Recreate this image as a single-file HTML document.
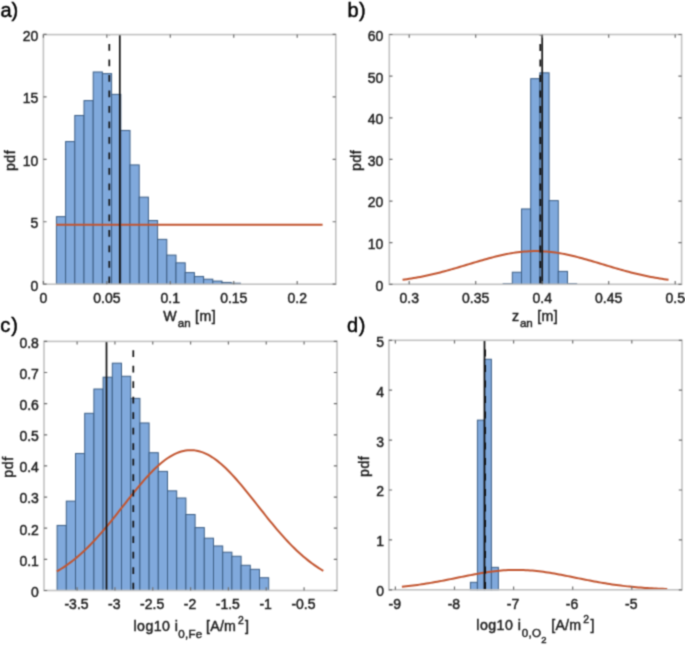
<!DOCTYPE html>
<html><head><meta charset="utf-8"><style>
html,body{margin:0;padding:0;background:#fff;}
body{width:685px;height:645px;overflow:hidden;}
svg{display:block;}
</style></head><body>
<svg width="685" height="645" viewBox="0 0 685 645">
<defs><filter id="bl" x="0" y="0" width="100%" height="100%" color-interpolation-filters="sRGB"><feConvolveMatrix order="3" kernelMatrix="0.04 0.12 0.04 0.12 0.36 0.12 0.04 0.12 0.04" divisor="1" edgeMode="duplicate"/></filter></defs>
<g filter="url(#bl)">
<rect width="685" height="645" fill="#fff"/>
<g fill="#80a9dc" stroke="#3d5f86" stroke-width="1">
<rect x="56.4" y="216.63" width="9.2" height="67.57"/>
<rect x="65.6" y="141.56" width="9.2" height="142.64"/>
<rect x="74.8" y="115.46" width="9.2" height="168.74"/>
<rect x="84" y="100.6" width="9.2" height="183.6"/>
<rect x="93.2" y="71.99" width="9.2" height="212.21"/>
<rect x="102.4" y="73.62" width="9.2" height="210.58"/>
<rect x="111.6" y="94.35" width="9.2" height="189.85"/>
<rect x="120.8" y="130.45" width="9.2" height="153.75"/>
<rect x="130" y="164.92" width="9.2" height="119.28"/>
<rect x="139.2" y="197.14" width="9.2" height="87.06"/>
<rect x="148.4" y="220.5" width="9.2" height="63.7"/>
<rect x="157.6" y="239.36" width="9.2" height="44.84"/>
<rect x="166.8" y="255.1" width="9.2" height="29.1"/>
<rect x="176" y="262.84" width="9.2" height="21.36"/>
<rect x="185.2" y="272.58" width="9.2" height="11.62"/>
<rect x="194.4" y="276.46" width="9.2" height="7.74"/>
<rect x="203.6" y="279.2" width="9.2" height="5"/>
<rect x="212.8" y="281.08" width="9.2" height="3.12"/>
<rect x="222" y="282.45" width="9.2" height="1.75"/>
<rect x="231.2" y="283.2" width="9.2" height="1"/>
<rect x="503.1" y="283.68" width="9.2" height="0.62"/>
<rect x="512.3" y="272.23" width="9.2" height="12.07"/>
<rect x="521.5" y="208.95" width="9.2" height="75.35"/>
<rect x="530.7" y="78.65" width="9.2" height="205.65"/>
<rect x="539.9" y="72.82" width="9.2" height="211.48"/>
<rect x="549.1" y="200.62" width="9.2" height="83.68"/>
<rect x="558.3" y="271.39" width="9.2" height="12.91"/>
<rect x="567.5" y="283.68" width="9.2" height="0.62"/>
<rect x="57.1" y="525.42" width="9.2" height="65.08"/>
<rect x="66.3" y="501.13" width="9.2" height="89.37"/>
<rect x="75.5" y="453.48" width="9.2" height="137.02"/>
<rect x="84.7" y="413.31" width="9.2" height="177.19"/>
<rect x="93.9" y="389.02" width="9.2" height="201.48"/>
<rect x="103.1" y="377.19" width="9.2" height="213.31"/>
<rect x="112.3" y="363.18" width="9.2" height="227.32"/>
<rect x="121.5" y="376.26" width="9.2" height="214.24"/>
<rect x="130.7" y="398.37" width="9.2" height="192.13"/>
<rect x="139.9" y="422.97" width="9.2" height="167.53"/>
<rect x="149.1" y="452.71" width="9.2" height="137.79"/>
<rect x="158.3" y="471.39" width="9.2" height="119.11"/>
<rect x="167.5" y="490.85" width="9.2" height="99.65"/>
<rect x="176.7" y="498.01" width="9.2" height="92.49"/>
<rect x="185.9" y="514.52" width="9.2" height="75.98"/>
<rect x="195.1" y="527.6" width="9.2" height="62.9"/>
<rect x="204.3" y="538.18" width="9.2" height="52.32"/>
<rect x="213.5" y="545.97" width="9.2" height="44.53"/>
<rect x="222.7" y="552.2" width="9.2" height="38.3"/>
<rect x="231.9" y="556.25" width="9.2" height="34.25"/>
<rect x="241.1" y="565.28" width="9.2" height="25.22"/>
<rect x="250.3" y="569.32" width="9.2" height="21.18"/>
<rect x="259.5" y="577.73" width="9.2" height="12.77"/>
<rect x="470.4" y="582.31" width="7" height="7.49"/>
<rect x="477.4" y="420.14" width="7" height="169.66"/>
<rect x="484.4" y="359.26" width="7" height="230.54"/>
<rect x="491.4" y="567.34" width="7" height="22.46"/>
</g>
<path d="M56.09 224.72H322.58" stroke="#c25530" stroke-width="2"/>
<polyline points="402.55,279.8 404.77,279.5 406.98,279.17 409.2,278.84 411.42,278.48 413.63,278.11 415.85,277.73 418.07,277.32 420.28,276.9 422.5,276.47 424.72,276.02 426.93,275.55 429.15,275.06 431.37,274.56 433.58,274.05 435.8,273.52 438.02,272.97 440.23,272.41 442.45,271.83 444.67,271.25 446.88,270.64 449.1,270.03 451.32,269.41 453.53,268.77 455.75,268.13 457.97,267.48 460.18,266.82 462.4,266.16 464.62,265.49 466.83,264.82 469.05,264.15 471.27,263.48 473.48,262.81 475.7,262.15 477.92,261.48 480.13,260.83 482.35,260.18 484.57,259.54 486.78,258.92 489,258.3 491.22,257.7 493.43,257.12 495.65,256.56 497.87,256.01 500.08,255.49 502.3,254.99 504.52,254.51 506.73,254.06 508.95,253.64 511.17,253.24 513.38,252.88 515.6,252.55 517.82,252.24 520.03,251.98 522.25,251.74 524.47,251.54 526.68,251.38 528.9,251.25 531.12,251.16 533.33,251.1 535.55,251.08 537.77,251.1 539.98,251.16 542.2,251.25 544.42,251.38 546.63,251.54 548.85,251.74 551.07,251.98 553.28,252.24 555.5,252.55 557.72,252.88 559.93,253.24 562.15,253.64 564.37,254.06 566.58,254.51 568.8,254.99 571.02,255.49 573.23,256.01 575.45,256.56 577.67,257.12 579.88,257.7 582.1,258.3 584.32,258.92 586.53,259.54 588.75,260.18 590.97,260.83 593.18,261.48 595.4,262.15 597.62,262.81 599.83,263.48 602.05,264.15 604.27,264.82 606.48,265.49 608.7,266.16 610.92,266.82 613.13,267.48 615.35,268.13 617.57,268.77 619.78,269.41 622,270.03 624.22,270.64 626.43,271.25 628.65,271.83 630.87,272.41 633.08,272.97 635.3,273.52 637.52,274.05 639.73,274.56 641.95,275.06 644.17,275.55 646.38,276.02 648.6,276.47 650.82,276.9 653.03,277.32 655.25,277.73 657.47,278.11 659.68,278.48 661.9,278.84 664.12,279.17 666.33,279.5 668.55,279.8" fill="none" stroke="#c25530" stroke-width="2" stroke-linejoin="round"/>
<polyline points="56.82,571.42 59.04,570.12 61.26,568.76 63.48,567.34 65.71,565.84 67.93,564.28 70.15,562.66 72.37,560.96 74.59,559.2 76.81,557.37 79.03,555.46 81.25,553.49 83.47,551.46 85.69,549.35 87.91,547.18 90.13,544.95 92.35,542.65 94.57,540.29 96.79,537.87 99.01,535.4 101.24,532.88 103.46,530.3 105.68,527.68 107.9,525.02 110.12,522.32 112.34,519.59 114.56,516.83 116.78,514.04 119,511.24 121.22,508.42 123.44,505.6 125.66,502.78 127.88,499.96 130.1,497.16 132.32,494.37 134.54,491.61 136.77,488.88 138.99,486.19 141.21,483.55 143.43,480.96 145.65,478.44 147.87,475.98 150.09,473.59 152.31,471.29 154.53,469.07 156.75,466.95 158.97,464.94 161.19,463.02 163.41,461.23 165.63,459.55 167.85,457.99 170.07,456.56 172.3,455.27 174.52,454.11 176.74,453.1 178.96,452.23 181.18,451.51 183.4,450.93 185.62,450.51 187.84,450.24 190.06,450.13 192.28,450.17 194.5,450.37 196.72,450.71 198.94,451.21 201.16,451.87 203.38,452.67 205.6,453.61 207.83,454.7 210.05,455.93 212.27,457.29 214.49,458.79 216.71,460.41 218.93,462.15 221.15,464.01 223.37,465.98 225.59,468.05 227.81,470.22 230.03,472.48 232.25,474.83 234.47,477.25 236.69,479.75 238.91,482.31 241.13,484.93 243.36,487.59 245.58,490.3 247.8,493.05 250.02,495.82 252.24,498.62 254.46,501.43 256.68,504.25 258.9,507.08 261.12,509.9 263.34,512.71 265.56,515.5 267.78,518.27 270,521.02 272.22,523.74 274.44,526.42 276.66,529.06 278.89,531.66 281.11,534.2 283.33,536.7 285.55,539.15 287.77,541.53 289.99,543.86 292.21,546.12 294.43,548.32 296.65,550.46 298.87,552.53 301.09,554.53 303.31,556.47 305.53,558.33 307.75,560.13 309.97,561.86 312.19,563.52 314.42,565.11 316.64,566.63 318.86,568.09 321.08,569.48 323.3,570.81" fill="none" stroke="#c25530" stroke-width="2" stroke-linejoin="round"/>
<polyline points="401.9,586.77 404.11,586.54 406.32,586.3 408.53,586.05 410.75,585.79 412.96,585.52 415.17,585.23 417.38,584.93 419.59,584.62 421.8,584.29 424.01,583.96 426.23,583.61 428.44,583.25 430.65,582.88 432.86,582.5 435.07,582.1 437.28,581.7 439.49,581.29 441.7,580.87 443.92,580.45 446.13,580.01 448.34,579.57 450.55,579.13 452.76,578.68 454.97,578.23 457.18,577.78 459.4,577.33 461.61,576.88 463.82,576.43 466.03,575.99 468.24,575.55 470.45,575.12 472.66,574.69 474.87,574.28 477.09,573.87 479.3,573.48 481.51,573.1 483.72,572.74 485.93,572.39 488.14,572.07 490.35,571.76 492.57,571.47 494.78,571.2 496.99,570.95 499.2,570.73 501.41,570.54 503.62,570.36 505.83,570.22 508.04,570.1 510.26,570.01 512.47,569.94 514.68,569.9 516.89,569.89 519.1,569.91 521.31,569.96 523.52,570.03 525.74,570.13 527.95,570.26 530.16,570.41 532.37,570.59 534.58,570.8 536.79,571.03 539,571.28 541.21,571.55 543.43,571.85 545.64,572.16 547.85,572.5 550.06,572.85 552.27,573.22 554.48,573.6 556.69,573.99 558.91,574.4 561.12,574.82 563.33,575.25 565.54,575.68 567.75,576.12 569.96,576.57 572.17,577.02 574.38,577.47 576.6,577.92 578.81,578.37 581.02,578.82 583.23,579.27 585.44,579.71 587.65,580.14 589.86,580.58 592.07,581 594.29,581.42 596.5,581.83 598.71,582.22 600.92,582.61 603.13,582.99 605.34,583.36 607.55,583.72 609.77,584.06 611.98,584.39 614.19,584.71 616.4,585.02 618.61,585.32 620.82,585.6 623.03,585.87 625.24,586.13 627.46,586.38 629.67,586.61 631.88,586.83 634.09,587.04 636.3,587.24 638.51,587.43 640.72,587.61 642.94,587.78 645.15,587.93 647.36,588.08 649.57,588.22 651.78,588.35 653.99,588.47 656.2,588.58 658.41,588.68 660.63,588.78 662.84,588.87 665.05,588.95 667.26,589.03" fill="none" stroke="#c25530" stroke-width="2" stroke-linejoin="round"/>
<path d="M109.3 284.2V34.6" stroke="#111" stroke-width="1.7" stroke-dasharray="6.8 8.7" stroke-dashoffset="-0.9"/>
<path d="M119.8 284.2V34.6" stroke="#111" stroke-width="1.7"/>
<path d="M540.3 284.3V34.5" stroke="#111" stroke-width="1.7" stroke-dasharray="6.8 8.7" stroke-dashoffset="-0.9"/>
<path d="M542.2 284.3V34.5" stroke="#111" stroke-width="1.7"/>
<path d="M133.3 590.5V341.4" stroke="#111" stroke-width="1.7" stroke-dasharray="6.8 8.7" stroke-dashoffset="-0.9"/>
<path d="M106.5 590.5V341.4" stroke="#111" stroke-width="1.7"/>
<path d="M485.2 589.8V340.3" stroke="#111" stroke-width="1.7" stroke-dasharray="6.8 8.7" stroke-dashoffset="-0.9"/>
<path d="M484.5 589.8V340.3" stroke="#111" stroke-width="1.7"/>
<rect x="43.4" y="34.6" width="292.4" height="249.6" fill="none" stroke="#c2c2c2" stroke-width="1.6"/>
<path d="M43.4 284.2v-3.2M43.4 34.6v3.2" stroke="#6e6e6e" stroke-width="1.2"/>
<path d="M106.85 284.2v-3.2M106.85 34.6v3.2" stroke="#6e6e6e" stroke-width="1.2"/>
<path d="M170.3 284.2v-3.2M170.3 34.6v3.2" stroke="#6e6e6e" stroke-width="1.2"/>
<path d="M233.75 284.2v-3.2M233.75 34.6v3.2" stroke="#6e6e6e" stroke-width="1.2"/>
<path d="M297.2 284.2v-3.2M297.2 34.6v3.2" stroke="#6e6e6e" stroke-width="1.2"/>
<path d="M43.4 284.2h3.2M335.8 284.2h-3.2" stroke="#6e6e6e" stroke-width="1.2"/>
<path d="M43.4 221.75h3.2M335.8 221.75h-3.2" stroke="#6e6e6e" stroke-width="1.2"/>
<path d="M43.4 159.3h3.2M335.8 159.3h-3.2" stroke="#6e6e6e" stroke-width="1.2"/>
<path d="M43.4 96.85h3.2M335.8 96.85h-3.2" stroke="#6e6e6e" stroke-width="1.2"/>
<path d="M43.4 34.4h3.2M335.8 34.4h-3.2" stroke="#6e6e6e" stroke-width="1.2"/>
<rect x="389.3" y="34.5" width="292.3" height="249.8" fill="none" stroke="#c2c2c2" stroke-width="1.6"/>
<path d="M409.2 284.3v-3.2M409.2 34.5v3.2" stroke="#6e6e6e" stroke-width="1.2"/>
<path d="M475.7 284.3v-3.2M475.7 34.5v3.2" stroke="#6e6e6e" stroke-width="1.2"/>
<path d="M542.2 284.3v-3.2M542.2 34.5v3.2" stroke="#6e6e6e" stroke-width="1.2"/>
<path d="M608.7 284.3v-3.2M608.7 34.5v3.2" stroke="#6e6e6e" stroke-width="1.2"/>
<path d="M675.2 284.3v-3.2M675.2 34.5v3.2" stroke="#6e6e6e" stroke-width="1.2"/>
<path d="M389.3 284.3h3.2M681.6 284.3h-3.2" stroke="#6e6e6e" stroke-width="1.2"/>
<path d="M389.3 242.67h3.2M681.6 242.67h-3.2" stroke="#6e6e6e" stroke-width="1.2"/>
<path d="M389.3 201.04h3.2M681.6 201.04h-3.2" stroke="#6e6e6e" stroke-width="1.2"/>
<path d="M389.3 159.41h3.2M681.6 159.41h-3.2" stroke="#6e6e6e" stroke-width="1.2"/>
<path d="M389.3 117.78h3.2M681.6 117.78h-3.2" stroke="#6e6e6e" stroke-width="1.2"/>
<path d="M389.3 76.15h3.2M681.6 76.15h-3.2" stroke="#6e6e6e" stroke-width="1.2"/>
<path d="M389.3 34.52h3.2M681.6 34.52h-3.2" stroke="#6e6e6e" stroke-width="1.2"/>
<rect x="44" y="341.4" width="293" height="249.1" fill="none" stroke="#c2c2c2" stroke-width="1.6"/>
<path d="M77.1 590.5v-3.2M77.1 341.4v3.2" stroke="#6e6e6e" stroke-width="1.2"/>
<path d="M114.93 590.5v-3.2M114.93 341.4v3.2" stroke="#6e6e6e" stroke-width="1.2"/>
<path d="M152.76 590.5v-3.2M152.76 341.4v3.2" stroke="#6e6e6e" stroke-width="1.2"/>
<path d="M190.59 590.5v-3.2M190.59 341.4v3.2" stroke="#6e6e6e" stroke-width="1.2"/>
<path d="M228.42 590.5v-3.2M228.42 341.4v3.2" stroke="#6e6e6e" stroke-width="1.2"/>
<path d="M266.25 590.5v-3.2M266.25 341.4v3.2" stroke="#6e6e6e" stroke-width="1.2"/>
<path d="M304.08 590.5v-3.2M304.08 341.4v3.2" stroke="#6e6e6e" stroke-width="1.2"/>
<path d="M44 590.5h3.2M337 590.5h-3.2" stroke="#6e6e6e" stroke-width="1.2"/>
<path d="M44 559.36h3.2M337 559.36h-3.2" stroke="#6e6e6e" stroke-width="1.2"/>
<path d="M44 528.22h3.2M337 528.22h-3.2" stroke="#6e6e6e" stroke-width="1.2"/>
<path d="M44 497.08h3.2M337 497.08h-3.2" stroke="#6e6e6e" stroke-width="1.2"/>
<path d="M44 465.94h3.2M337 465.94h-3.2" stroke="#6e6e6e" stroke-width="1.2"/>
<path d="M44 434.8h3.2M337 434.8h-3.2" stroke="#6e6e6e" stroke-width="1.2"/>
<path d="M44 403.66h3.2M337 403.66h-3.2" stroke="#6e6e6e" stroke-width="1.2"/>
<path d="M44 372.52h3.2M337 372.52h-3.2" stroke="#6e6e6e" stroke-width="1.2"/>
<path d="M44 341.38h3.2M337 341.38h-3.2" stroke="#6e6e6e" stroke-width="1.2"/>
<rect x="388.9" y="340.3" width="293.1" height="249.5" fill="none" stroke="#c2c2c2" stroke-width="1.6"/>
<path d="M395.4 589.8v-3.2M395.4 340.3v3.2" stroke="#6e6e6e" stroke-width="1.2"/>
<path d="M454.5 589.8v-3.2M454.5 340.3v3.2" stroke="#6e6e6e" stroke-width="1.2"/>
<path d="M513.6 589.8v-3.2M513.6 340.3v3.2" stroke="#6e6e6e" stroke-width="1.2"/>
<path d="M572.7 589.8v-3.2M572.7 340.3v3.2" stroke="#6e6e6e" stroke-width="1.2"/>
<path d="M631.8 589.8v-3.2M631.8 340.3v3.2" stroke="#6e6e6e" stroke-width="1.2"/>
<path d="M388.9 589.8h3.2M682 589.8h-3.2" stroke="#6e6e6e" stroke-width="1.2"/>
<path d="M388.9 539.9h3.2M682 539.9h-3.2" stroke="#6e6e6e" stroke-width="1.2"/>
<path d="M388.9 490h3.2M682 490h-3.2" stroke="#6e6e6e" stroke-width="1.2"/>
<path d="M388.9 440.1h3.2M682 440.1h-3.2" stroke="#6e6e6e" stroke-width="1.2"/>
<path d="M388.9 390.2h3.2M682 390.2h-3.2" stroke="#6e6e6e" stroke-width="1.2"/>
<path d="M388.9 340.3h3.2M682 340.3h-3.2" stroke="#6e6e6e" stroke-width="1.2"/>
<g font-family='"Liberation Sans", sans-serif' font-size="14" fill="#1c1c1c" stroke="#1c1c1c" stroke-width="0.45">
<text x="43.4" y="303" text-anchor="middle">0</text>
<text x="106.85" y="303" text-anchor="middle">0.05</text>
<text x="170.3" y="303" text-anchor="middle">0.1</text>
<text x="233.75" y="303" text-anchor="middle">0.15</text>
<text x="297.2" y="303" text-anchor="middle">0.2</text>
<text x="38.3" y="290.6" text-anchor="end">0</text>
<text x="38.3" y="228.15" text-anchor="end">5</text>
<text x="38.3" y="165.7" text-anchor="end">10</text>
<text x="38.3" y="103.25" text-anchor="end">15</text>
<text x="38.3" y="40.8" text-anchor="end">20</text>
<text x="409.2" y="303" text-anchor="middle">0.3</text>
<text x="475.7" y="303" text-anchor="middle">0.35</text>
<text x="542.2" y="303" text-anchor="middle">0.4</text>
<text x="608.7" y="303" text-anchor="middle">0.45</text>
<text x="675.2" y="303" text-anchor="middle">0.5</text>
<text x="383.4" y="290.7" text-anchor="end">0</text>
<text x="383.4" y="249.07" text-anchor="end">10</text>
<text x="383.4" y="207.44" text-anchor="end">20</text>
<text x="383.4" y="165.81" text-anchor="end">30</text>
<text x="383.4" y="124.18" text-anchor="end">40</text>
<text x="383.4" y="82.55" text-anchor="end">50</text>
<text x="383.4" y="40.92" text-anchor="end">60</text>
<text x="76.5" y="609.4" text-anchor="middle">-3.5</text>
<text x="114.33" y="609.4" text-anchor="middle">-3</text>
<text x="152.16" y="609.4" text-anchor="middle">-2.5</text>
<text x="189.99" y="609.4" text-anchor="middle">-2</text>
<text x="227.82" y="609.4" text-anchor="middle">-1.5</text>
<text x="265.65" y="609.4" text-anchor="middle">-1</text>
<text x="303.48" y="609.4" text-anchor="middle">-0.5</text>
<text x="38.9" y="596.9" text-anchor="end">0</text>
<text x="38.9" y="565.76" text-anchor="end">0.1</text>
<text x="38.9" y="534.62" text-anchor="end">0.2</text>
<text x="38.9" y="503.48" text-anchor="end">0.3</text>
<text x="38.9" y="472.34" text-anchor="end">0.4</text>
<text x="38.9" y="441.2" text-anchor="end">0.5</text>
<text x="38.9" y="410.06" text-anchor="end">0.6</text>
<text x="38.9" y="378.92" text-anchor="end">0.7</text>
<text x="38.9" y="347.78" text-anchor="end">0.8</text>
<text x="394.8" y="609.4" text-anchor="middle">-9</text>
<text x="453.9" y="609.4" text-anchor="middle">-8</text>
<text x="513" y="609.4" text-anchor="middle">-7</text>
<text x="572.1" y="609.4" text-anchor="middle">-6</text>
<text x="631.2" y="609.4" text-anchor="middle">-5</text>
<text x="384" y="596.2" text-anchor="end">0</text>
<text x="384" y="546.3" text-anchor="end">1</text>
<text x="384" y="496.4" text-anchor="end">2</text>
<text x="384" y="446.5" text-anchor="end">3</text>
<text x="384" y="396.6" text-anchor="end">4</text>
<text x="384" y="346.7" text-anchor="end">5</text>
</g>
<g font-family='"Liberation Sans", sans-serif' font-size="14" fill="#1c1c1c" stroke="#1c1c1c" stroke-width="0.45">
<text transform="translate(15.1 160.4) rotate(-90)" text-anchor="middle" letter-spacing="0.6">pdf</text>
<text transform="translate(361.2 160.3) rotate(-90)" text-anchor="middle" letter-spacing="0.6">pdf</text>
<text transform="translate(13.2 467) rotate(-90)" text-anchor="middle" letter-spacing="0.6">pdf</text>
<text transform="translate(369.3 466.3) rotate(-90)" text-anchor="middle" letter-spacing="0.6">pdf</text>
<text x="163.34" y="320.9" font-size="14.2">W</text>
<text x="177.81" y="327.1" font-size="11.6">an</text>
<text x="195.09" y="320.9" font-size="14.2" letter-spacing="0.4">[m]</text>
<text x="511.92" y="320.9" font-size="14.2">z</text>
<text x="519.91" y="327.1" font-size="11.6">an</text>
<text x="537.19" y="320.9" font-size="14.2" letter-spacing="0.4">[m]</text>
<text x="133.44" y="630.7" font-size="14.2" letter-spacing="0.45">log10 i</text>
<text x="178.25" y="638.2" font-size="11.6" letter-spacing="0.25">0,Fe</text>
<text x="206.09" y="630.7" font-size="14.2" letter-spacing="0.2">[A/m</text>
<text x="237.98" y="623.6" font-size="10.4">2</text>
<text x="244.89" y="630.7" font-size="14.2">]</text>
<text x="476.34" y="629.8" font-size="14.2" letter-spacing="0.45">log10 i</text>
<text x="521.85" y="636.9" font-size="11.6" letter-spacing="0.3">0,O</text>
<text x="541.13" y="643.4" font-size="9.4">2</text>
<text x="551.29" y="629.8" font-size="14.2" letter-spacing="0.2">[A/m</text>
<text x="583.18" y="622.9" font-size="10.4">2</text>
<text x="590.39" y="629.8" font-size="14.2">]</text>
</g>
<g font-family='"Liberation Sans", sans-serif' font-size="20" fill="#000" stroke="#000" stroke-width="0.45">
<text x="0.5" y="16.6">a)</text>
<text x="347.4" y="16.6" letter-spacing="0.4">b)</text>
<text x="0.2" y="331.8" letter-spacing="1">c)</text>
<text x="347.0" y="331.5" letter-spacing="0.6">d)</text>
</g>
</g>
</svg>
</body></html>
